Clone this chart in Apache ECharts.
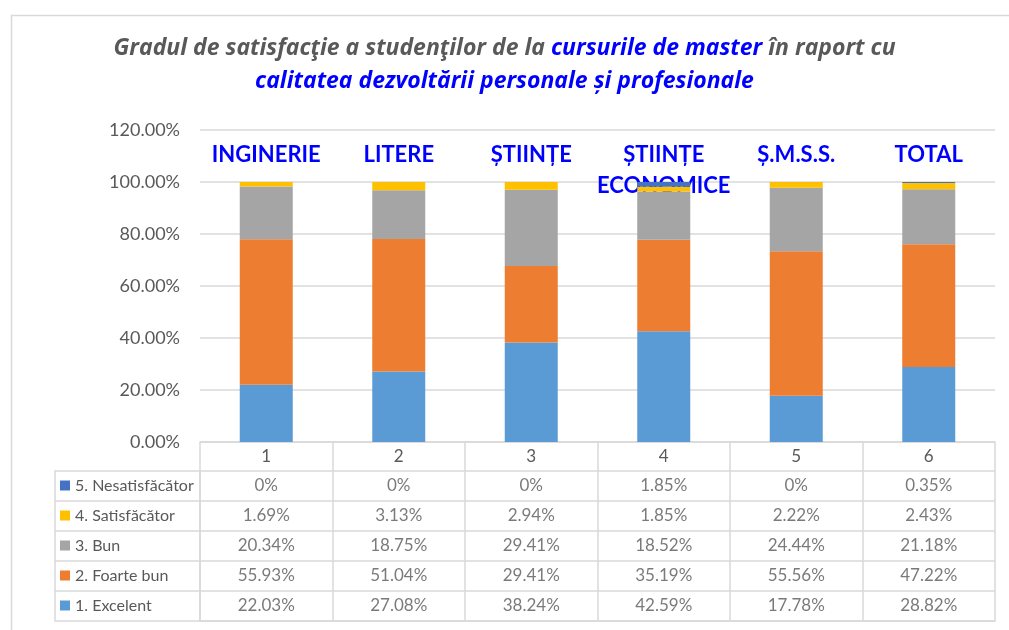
<!DOCTYPE html>
<html>
<head>
<meta charset="utf-8">
<script src="https://cdn.jsdelivr.net/npm/echarts@6/dist/echarts.min.js"></script>
<style>
  html, body { margin: 0; padding: 0; background: #fff; }
  #main { width: 1009px; height: 630px; }
</style>
</head>
<body>
<div id="main"></div>
<script>
// categorii (coloanele tabelului)
var categories = ['1', '2', '3', '4', '5', '6'];
var faculties = ['INGINERIE', 'LITERE', 'ȘTIINȚE', 'ȘTIINȚE\nECONOMICE', 'Ș.M.S.S.', 'TOTAL'];

// valori in procente
var excelent = [22.03, 27.08, 38.24, 42.59, 17.78, 28.82];
var foarteBun = [55.93, 51.04, 29.41, 35.19, 55.56, 47.22];
var bun = [20.34, 18.75, 29.41, 18.52, 24.44, 21.18];
var satisfacator = [1.69, 3.13, 2.94, 1.85, 2.22, 2.43];
var nesatisfacator = [0, 0, 0, 1.85, 0, 0.35];

var yTicks = [0, 20, 40, 60, 80, 100, 120];

var seriesNames = ['1. Excelent', '2. Foarte bun', '3. Bun', '4. Satisfăcător', '5. Nesatisfăcător'];
var seriesData = [excelent, foarteBun, bun, satisfacator, nesatisfacator];
var colors = ['#5B9BD5', '#ED7D31', '#A5A5A5', '#FFC000', '#4472C4'];

// randurile tabelului, de sus in jos
var rowNames = seriesNames.slice().reverse();
var rowData = seriesData.slice().reverse();

var gray = '#595959';
var lineGray = '#d9d9d9';
var font = 'Lato, "Open Sans", sans-serif';
var titleFont = '"Open Sans", Lato, sans-serif';

function fmt(v) {
  return v === 0 ? '0%' : v.toFixed(2) + '%';
}

// celulele tabelului: [coloana, rand, valoare]
var cells = [];
for (var r = 0; r < rowData.length; r++) {
  for (var c = 0; c < categories.length; c++) {
    cells.push([c, r, rowData[r][c]]);
  }
}

var series = seriesNames.map(function (name, i) {
  return {
    name: name,
    type: 'bar',
    stack: 'total',
    barWidth: 53,
    itemStyle: { color: colors[i] },
    data: seriesData[i]
  };
});

series.push({
  name: 'tabel',
  type: 'scatter',
  xAxisIndex: 2,
  yAxisIndex: 1,
  symbolSize: 0,
  silent: true,
  label: {
    show: true,
    position: 'inside',
    color: gray,
    fontSize: 17,
    fontFamily: font,
    formatter: function (p) { return fmt(p.value[2]); }
  },
  data: cells
});

var myChart = echarts.init(document.getElementById('main'));

var option = {
  backgroundColor: '#fff',
  animation: false,
  color: colors,
  title: {
    left: 'center',
    top: 27,
    text: '{g|Gradul de satisfacţie a studenţilor de la }{b|cursurile de master}{g| în raport cu}\n{b|calitatea dezvoltării personale și profesionale}',
    textStyle: {
      fontFamily: titleFont,
      rich: {
        g: { color: gray, fontSize: 23, fontWeight: 'bold', fontStyle: 'italic', fontFamily: titleFont, lineHeight: 33 },
        b: { color: '#0000FF', fontSize: 23, fontWeight: 'bold', fontStyle: 'italic', fontFamily: titleFont, lineHeight: 33 }
      }
    }
  },
  legend: {
    orient: 'vertical',
    left: 60,
    top: 475.5,
    padding: 0,
    itemWidth: 10,
    itemHeight: 10,
    itemGap: 10,
    icon: 'rect',
    selectedMode: false,
    data: rowNames,
    textStyle: { color: gray, fontSize: 16, fontFamily: font, lineHeight: 20 }
  },
  graphic: [{
    type: 'rect',
    left: 9,
    top: 13,
    z: -10,
    shape: { width: 1100, height: 700 },
    style: { fill: null, stroke: lineGray, lineWidth: 1.5 }
  }],
  grid: [
    { left: 200, right: 14, top: 130, height: 312, outerBoundsMode: 'none' },
    { left: 200, right: 14, top: 471, height: 150, outerBoundsMode: 'none' }
  ],
  xAxis: [
    {
      type: 'category',
      gridIndex: 0,
      data: categories,
      axisLine: { lineStyle: { color: lineGray, width: 1.5 } },
      axisTick: { show: true, length: 29, interval: 0, alignWithLabel: false, lineStyle: { color: lineGray, width: 1.5 } },
      axisLabel: { color: gray, fontSize: 17, fontFamily: font, margin: 6, interval: 0 },
      splitLine: { show: false }
    },
    {
      type: 'category',
      gridIndex: 0,
      position: 'top',
      data: faculties,
      axisLine: { show: false },
      axisTick: { show: false },
      axisLabel: {
        inside: true,
        margin: 9,
        interval: 0,
        color: '#0000FF',
        fontWeight: 'bold',
        fontSize: 22,
        fontFamily: font,
        lineHeight: 31,
        verticalAlign: 'top'
      }
    },
    {
      type: 'category',
      gridIndex: 1,
      data: categories,
      axisLine: { show: true, lineStyle: { color: lineGray, width: 1.5 } },
      axisTick: { show: false },
      axisLabel: { show: false },
      splitLine: { show: true, interval: 0, lineStyle: { color: lineGray, width: 1.5 } }
    }
  ],
  yAxis: [
    {
      type: 'value',
      gridIndex: 0,
      min: yTicks[0],
      max: yTicks[yTicks.length - 1],
      interval: 20,
      axisLine: { show: false },
      axisTick: { show: false },
      axisLabel: {
        color: gray,
        fontSize: 18,
        fontFamily: font,
        margin: 20,
        formatter: function (v) { return v.toFixed(2) + '%'; }
      },
      splitLine: { lineStyle: { color: lineGray, width: 1.5 } }
    },
    {
      type: 'category',
      gridIndex: 1,
      inverse: true,
      data: rowNames,
      axisLine: { show: true, lineStyle: { color: lineGray, width: 1.5 } },
      axisTick: { show: true, length: 145, interval: 0, alignWithLabel: false, lineStyle: { color: lineGray, width: 1.5 } },
      axisLabel: { show: false },
      splitLine: { show: true, interval: 0, lineStyle: { color: lineGray, width: 1.5 } }
    },
    {
      type: 'category',
      gridIndex: 1,
      position: 'left',
      offset: 145,
      data: rowNames,
      axisLine: { show: true, lineStyle: { color: lineGray, width: 1.5 } },
      axisTick: { show: false },
      axisLabel: { show: false }
    }
  ],
  series: series
};

myChart.setOption(option);
</script>
</body>
</html>
